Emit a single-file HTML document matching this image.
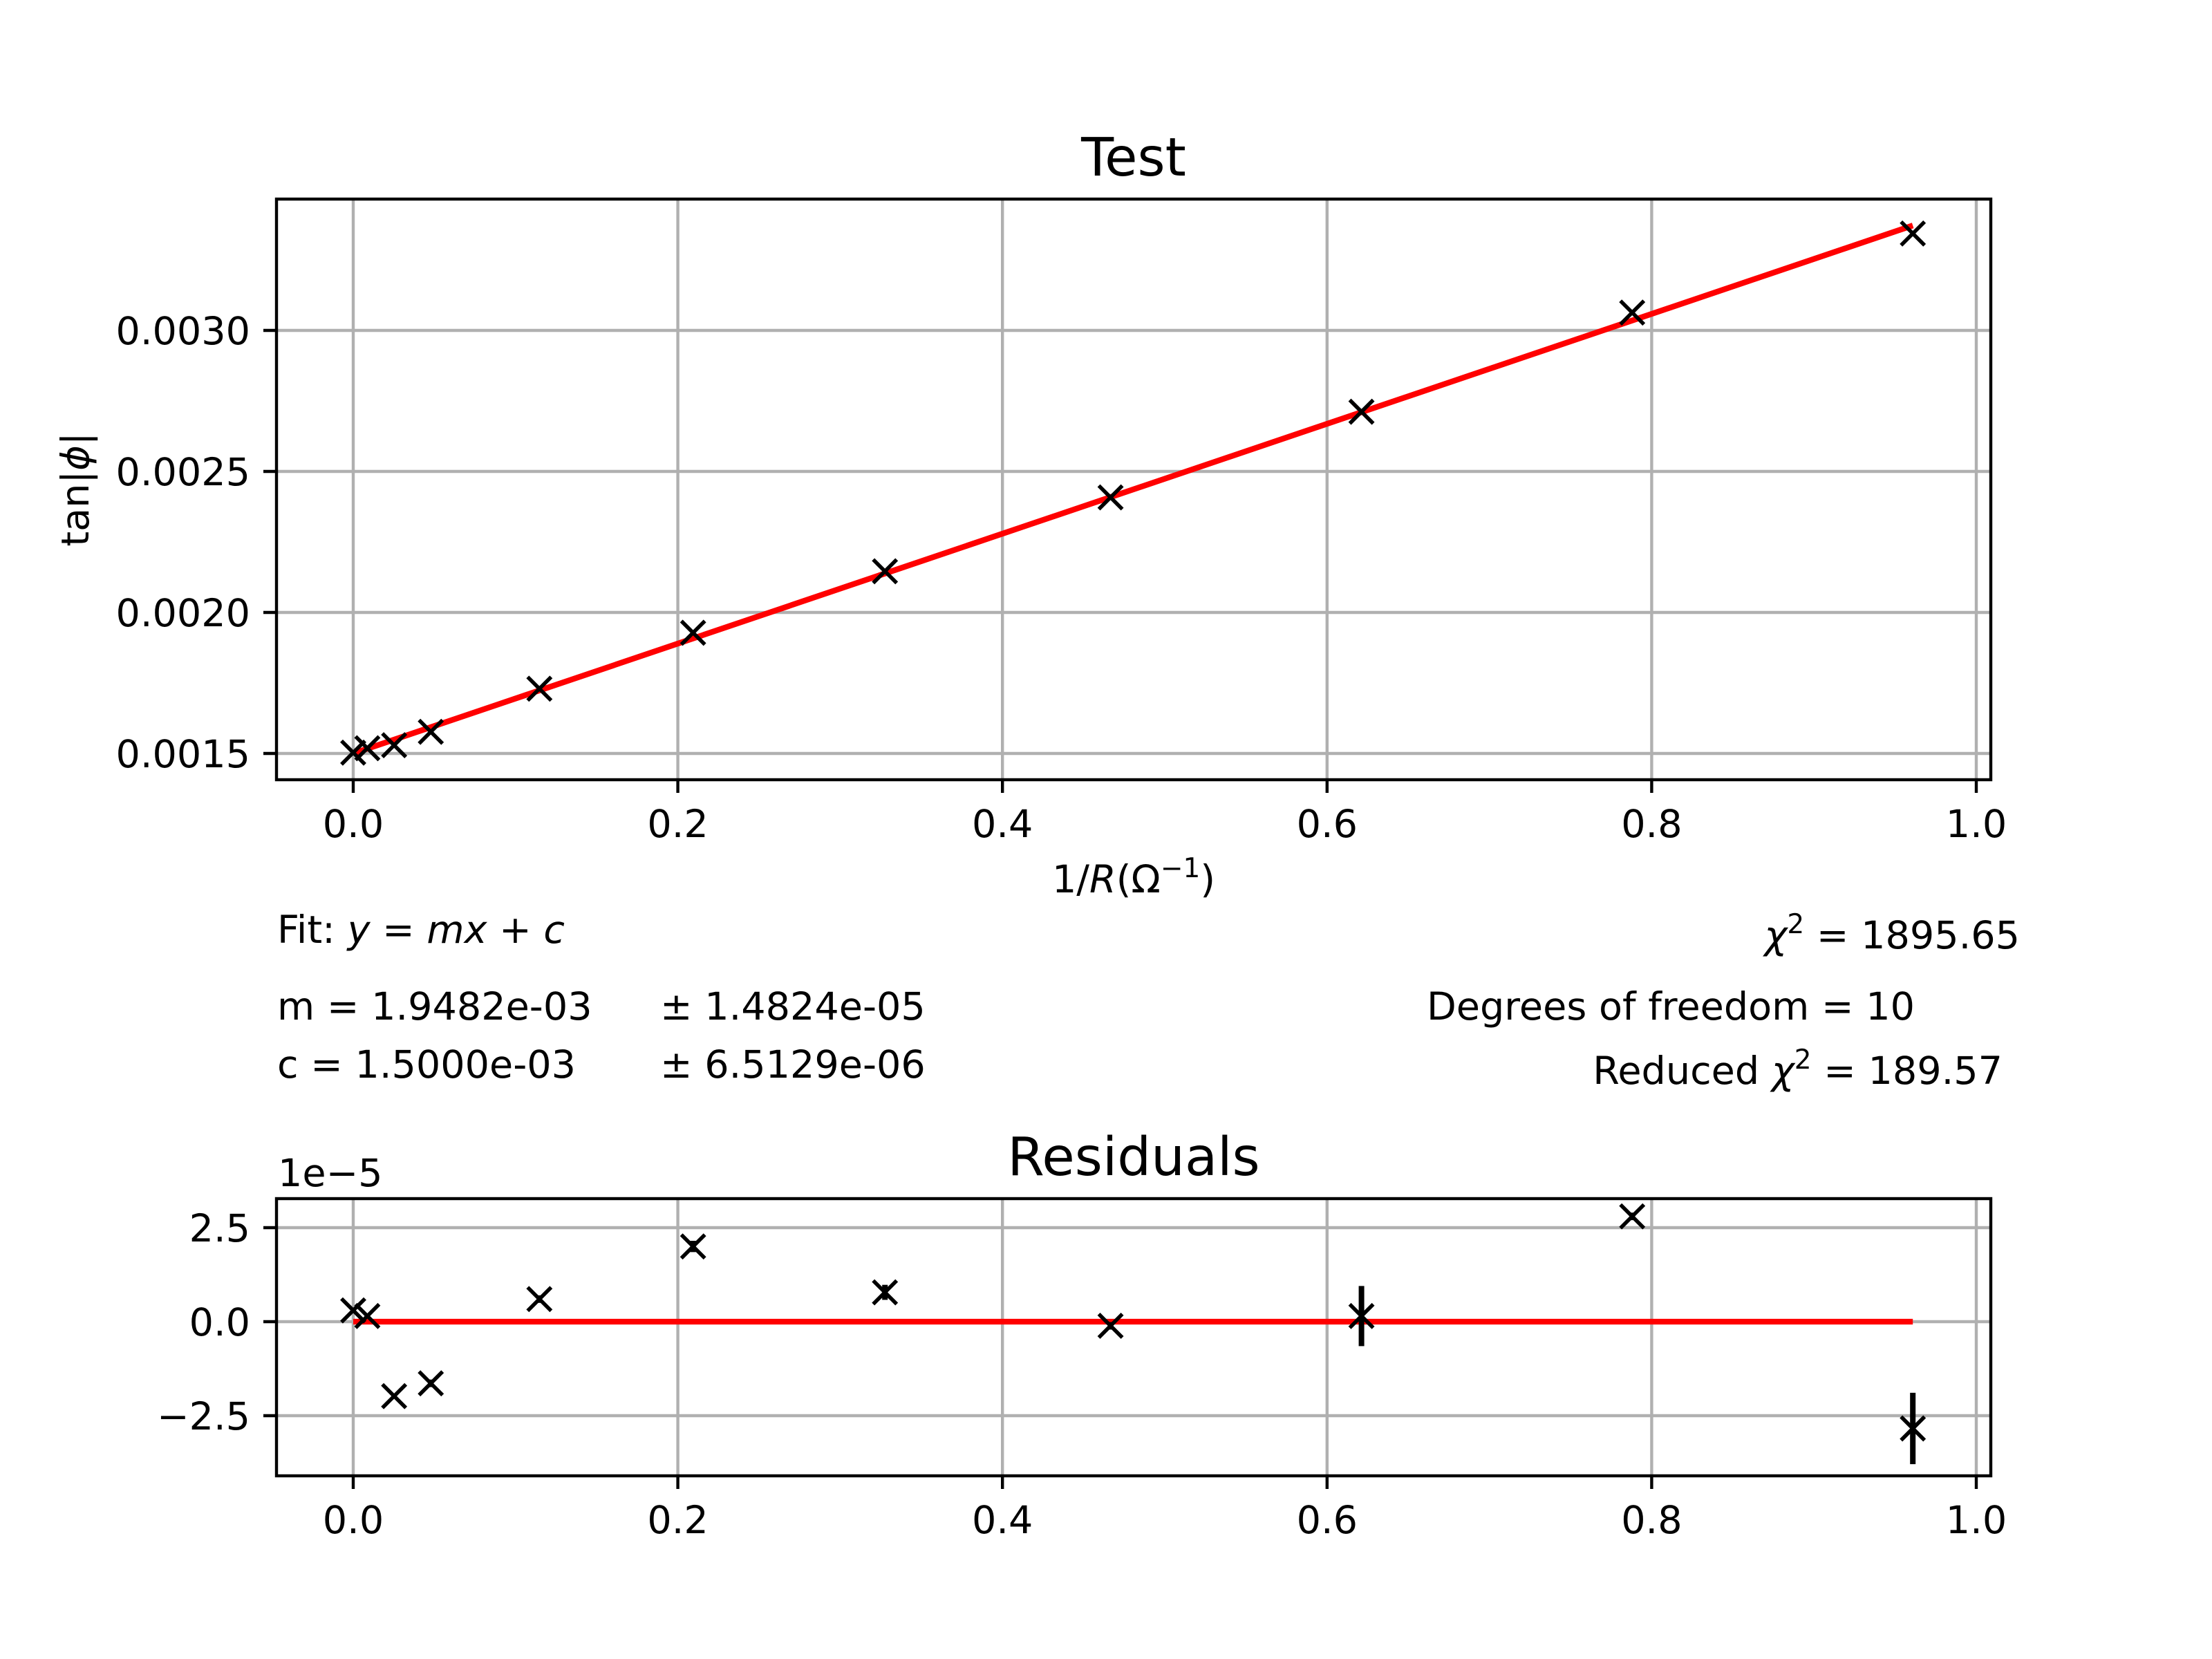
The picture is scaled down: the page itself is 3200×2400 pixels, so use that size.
<!DOCTYPE html>
<html><head><meta charset="utf-8"><style>
html,body{margin:0;padding:0;background:#fff}
svg{display:block}
text{font-family:"DejaVu Sans","Liberation Sans",sans-serif;fill:#000}
</style></head><body>
<svg id="fig" width="3200" height="2400" viewBox="0 0 3200 2400" xmlns="http://www.w3.org/2000/svg">
<rect width="3200" height="2400" fill="#fff"/>
<g id="topPlot"></g>
<g id="botPlot"></g>
<text x="1640" y="254" font-size="77" text-anchor="middle">Test</text>
<text x="1640" y="1291" font-size="55.6" text-anchor="middle">1/<tspan font-style="italic">R</tspan>(Ω<tspan font-size="39" dy="-22">−1</tspan><tspan dy="22">)</tspan></text>
<text transform="translate(128,708) rotate(-90)" font-size="55.6" text-anchor="middle">tan|<tspan font-style="italic">ϕ</tspan>|</text>
<text x="401" y="1364" font-size="55.6">Fit: <tspan font-style="italic">y</tspan> = <tspan font-style="italic">mx</tspan> + <tspan font-style="italic">c</tspan></text>
<text x="401" y="1475" font-size="55.6">m = 1.9482e-03</text>
<text x="955" y="1475" font-size="55.6">± 1.4824e-05</text>
<text x="401" y="1559" font-size="55.6">c = 1.5000e-03</text>
<text x="955" y="1559" font-size="55.6">± 6.5129e-06</text>
<text x="2922" y="1372" font-size="55.6" text-anchor="end"><tspan font-style="italic">χ</tspan><tspan font-size="39" dy="-22">2</tspan><tspan dy="22"> = 1895.65</tspan></text>
<text x="2064" y="1475" font-size="55.6">Degrees of freedom = 10</text>
<text x="2897" y="1568" font-size="55.6" text-anchor="end">Reduced <tspan font-style="italic">χ</tspan><tspan font-size="39" dy="-22">2</tspan><tspan dy="22"> = 189.57</tspan></text>
<text x="1640" y="1700" font-size="77" text-anchor="middle">Residuals</text>
<text x="402" y="1716" font-size="55.6">1e−5</text>
</svg>
<script>
const xVals = [0, 0.0087, 0.0252, 0.0478, 0.1147, 0.2094, 0.3276, 0.4666, 0.6212, 0.7880, 0.9609];
const yVals = [0.001503, 0.0015185, 0.0015293, 0.0015767, 0.0017295, 0.001928, 0.002146, 0.002408, 0.0027117, 0.0030632, 0.0033436];
const fitSlope = 0.0019482;
const fitIntercept = 0.0015;
const residVals = [0.3, 0.15, -1.98, -1.64, 0.6, 2.0, 0.78, -0.11, 0.15, 2.8, -2.84];
const residErr = [0.05, 0.05, 0.05, 0.1, 0.1, 0.15, 0.2, 0.1, 0.8, 0.1, 0.95];
const xTicks = [0, 0.2, 0.4, 0.6, 0.8, 1.0];
const xTickLabels = ["0.0", "0.2", "0.4", "0.6", "0.8", "1.0"];
const yTicks = [0.0015, 0.0020, 0.0025, 0.0030];
const yTickLabels = ["0.0015", "0.0020", "0.0025", "0.0030"];
const rTicks = [-2.5, 0, 2.5];
const rTickLabels = ["−2.5", "0.0", "2.5"];

const NS = "http://www.w3.org/2000/svg";
const L = 400, R = 2880;
const sx = v => 511 + v * 2348;
const syTop = v => 1090 - (v - 0.0015) / 0.0005 * 204;
const syRes = v => 1912 - v / 2.5 * 136;
function mk(parent, tag, attrs) {
  const e = document.createElementNS(NS, tag);
  for (const k in attrs) e.setAttribute(k, attrs[k]);
  parent.appendChild(e);
  return e;
}
function axes(g, yTop, yBottom, yT, yL, sy) {
  for (let i = 0; i < xTicks.length; i++) {
    const x = sx(xTicks[i]);
    const gl = mk(g, "line", {x1: x, x2: x, y1: yTop, y2: yBottom, stroke: "#b0b0b0", "stroke-width": 4.4});
    
    
    const tk = mk(g, "line", {x1: x, x2: x, y1: yBottom, y2: yBottom + 19, stroke: "#000", "stroke-width": 4.4});
    
    
    const t = mk(g, "text", {x: x, y: yBottom + 83, "font-size": 55.6, "text-anchor": "middle"});
    t.textContent = xTickLabels[i];
    
    
  }
  for (let i = 0; i < yT.length; i++) {
    const y = sy(yT[i]);
    const gl = mk(g, "line", {x1: L, x2: R, y1: y, y2: y, stroke: "#b0b0b0", "stroke-width": 4.4});
    
    
    const tk = mk(g, "line", {x1: L - 19, x2: L, y1: y, y2: y, stroke: "#000", "stroke-width": 4.4});
    
    
    const t = mk(g, "text", {x: L - 38, y: y + 20, "font-size": 55.6, "text-anchor": "end"});
    t.textContent = yL[i];
    
    
  }
}
function frame(g, yTop, yBottom) {
  const f = mk(g, "rect", {x: L, y: yTop, width: R - L, height: yBottom - yTop, fill: "none", stroke: "#000", "stroke-width": 4.4});
  
  
}
function marker(g, x, y, nm) {
  const m = mk(g, "path", {d: `M${x-17} ${y-17}L${x+17} ${y+17}M${x-17} ${y+17}L${x+17} ${y-17}`, stroke: "#000", "stroke-width": 5.5, fill: "none"});
  
  
}
const topG = document.getElementById("topPlot");
axes(topG, 288, 1128, yTicks, yTickLabels, syTop);
const xa = xVals[0], xb = xVals[xVals.length - 1];
const fit = mk(topG, "line", {x1: sx(xa), y1: syTop(fitIntercept + fitSlope * xa), x2: sx(xb), y2: syTop(fitIntercept + fitSlope * xb), stroke: "#ff0000", "stroke-width": 8.3});


for (let i = 0; i < xVals.length; i++) marker(topG, sx(xVals[i]), syTop(yVals[i]), 'data-point');
frame(topG, 288, 1128);
const botG = document.getElementById("botPlot");
axes(botG, 1734, 2135, rTicks, rTickLabels, syRes);
const zl = mk(botG, "line", {x1: sx(xa), y1: syRes(0), x2: sx(xb), y2: syRes(0), stroke: "#ff0000", "stroke-width": 8.3});


for (let i = 0; i < xVals.length; i++) {
  const x = sx(xVals[i]);
  const eb = mk(botG, "line", {x1: x, x2: x, y1: syRes(residVals[i] - residErr[i]), y2: syRes(residVals[i] + residErr[i]), stroke: "#000", "stroke-width": 8});
  
  
  marker(botG, x, syRes(residVals[i]), 'residual-point');
}
frame(botG, 1734, 2135);
</script>
</body></html>
